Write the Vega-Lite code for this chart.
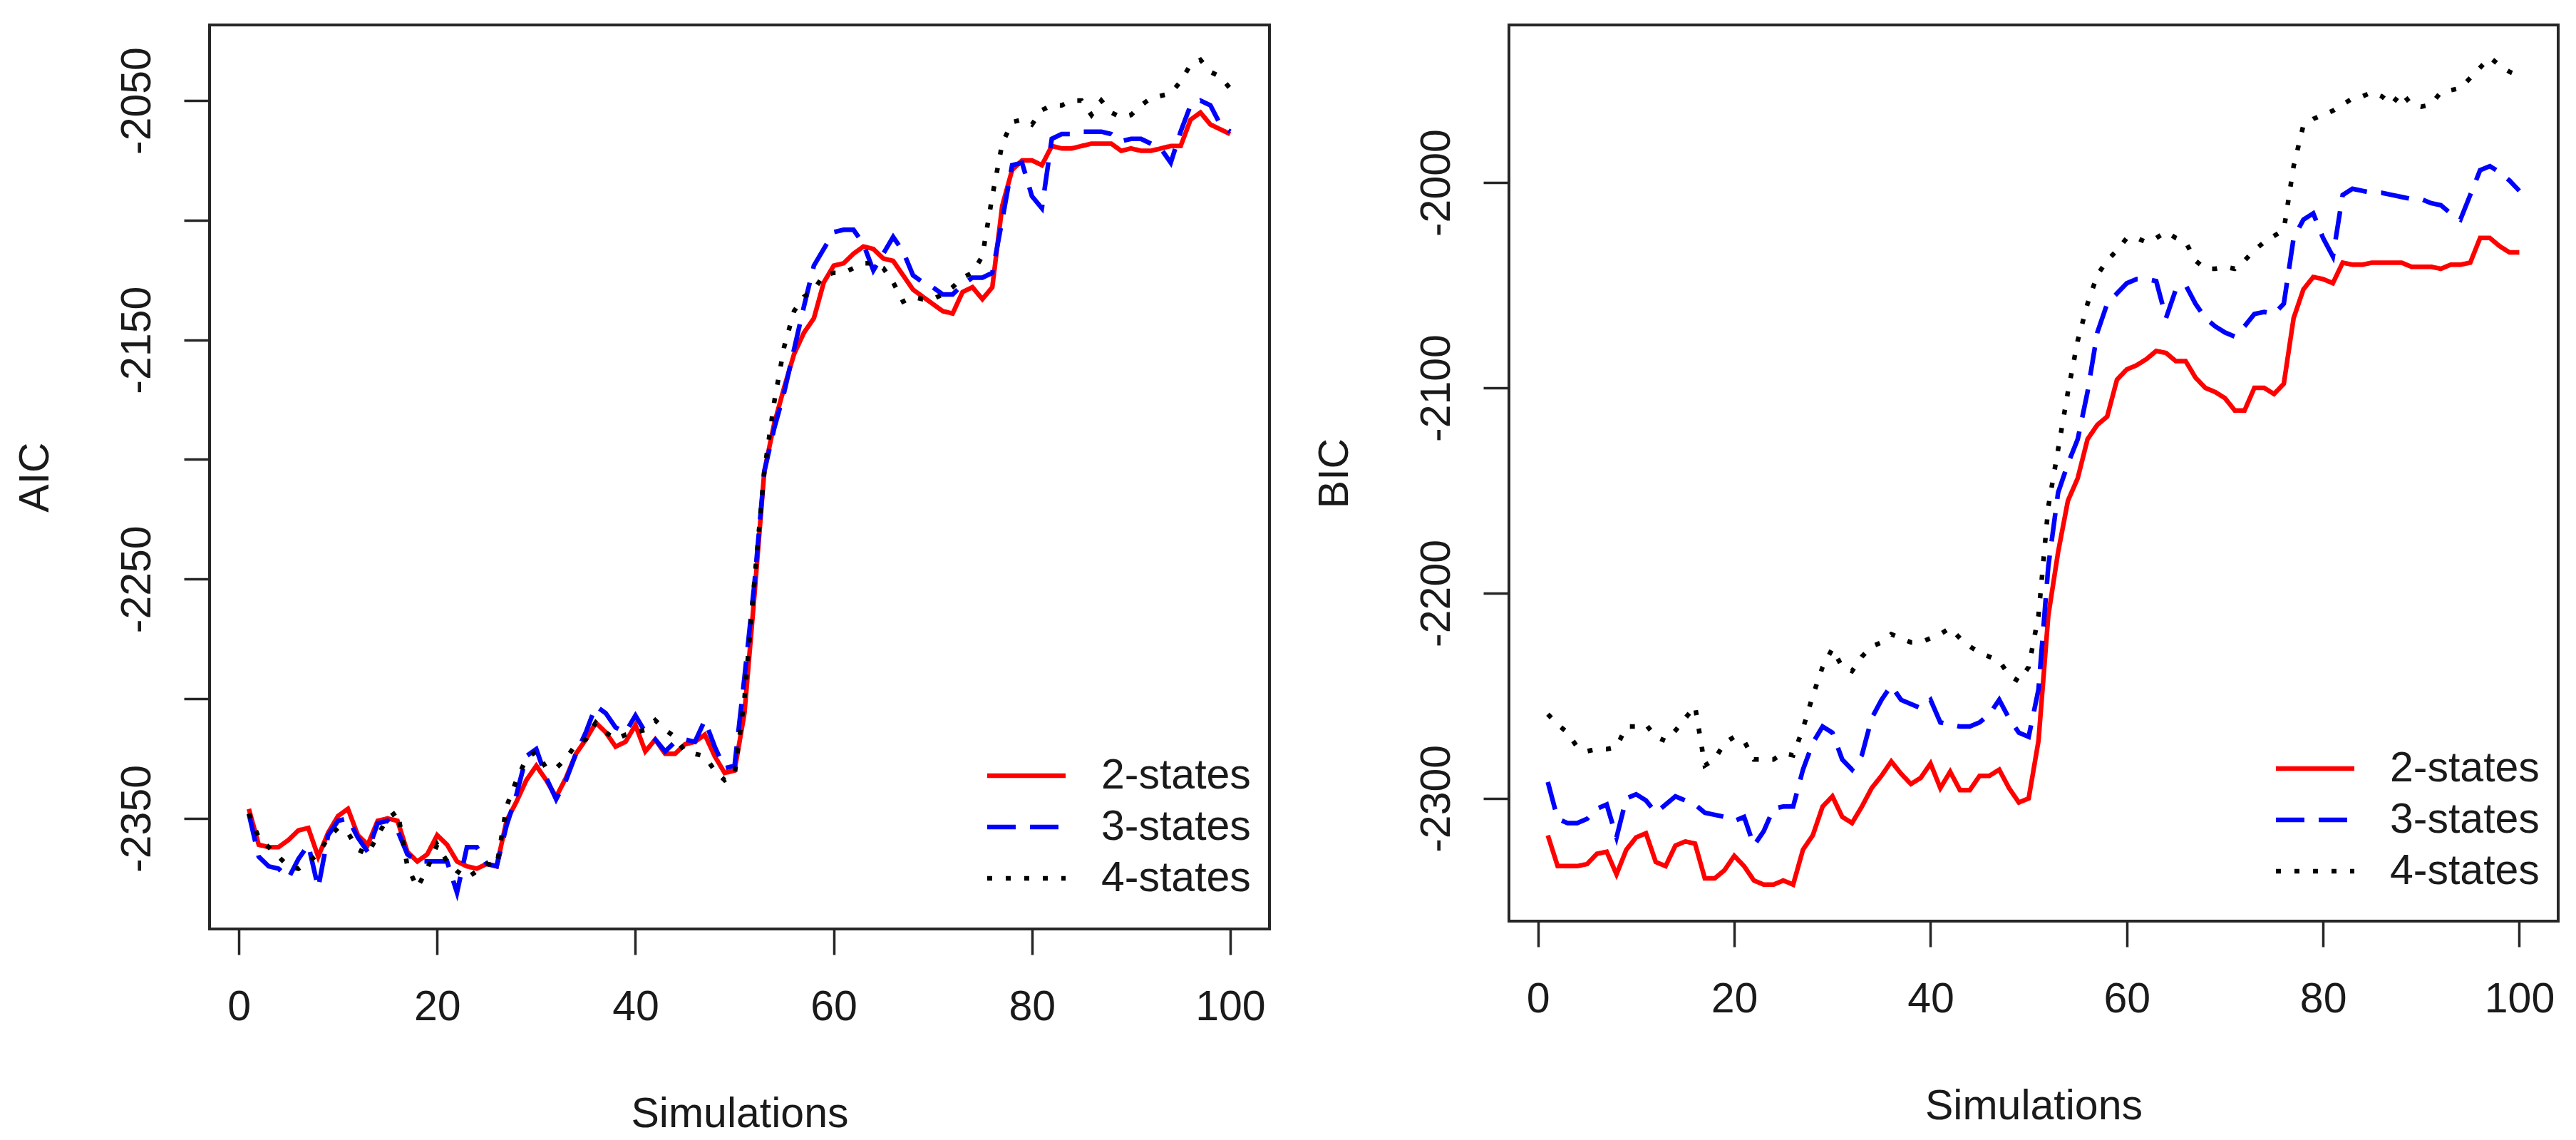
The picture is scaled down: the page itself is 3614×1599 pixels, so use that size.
{
"$schema": "https://vega.github.io/schema/vega-lite/v6.json",
"autosize": {"type": "none"},
"padding": {"left": 294, "top": 35, "right": 3320, "bottom": 1564},
"background": "#ffffff",
"bounds": "flush",
"spacing": 336,
"config": {
  "font": "Liberation Sans",
  "view": {"stroke": "#262626", "strokeWidth": 4},
  "axis": {"domain": false, "grid": false, "ticks": true, "tickColor": "#262626", "tickWidth": 3.5, "tickSize": 36,
    "labelFont": "Liberation Sans", "labelFontSize": 59, "labelColor": "#1a1a1a",
    "titleFont": "Liberation Sans", "titleFontSize": 59, "titleFontWeight": "normal", "titleColor": "#1a1a1a",
    "labelOverlap": false, "labelFlush": false, "labelBound": false},
  "legend": {"orient": "none", "symbolType": "M-2,0L2,0", "symbolSize": 3025, "symbolStrokeWidth": 6.5, "labelOffset": 74, "rowPadding": 11, "padding": 0,
    "labelFont": "Liberation Sans", "labelFontSize": 59, "labelColor": "#1a1a1a", "labelLimit": 0}
},
"resolve": {"scale": {"color": "independent", "strokeDash": "independent"}, "legend": {"color": "independent", "strokeDash": "independent"}},
"datasets": {
"aic": [
{"sim":1,"model":"2-states","value":-2346},{"sim":2,"model":"2-states","value":-2361},{"sim":3,"model":"2-states","value":-2362},{"sim":4,"model":"2-states","value":-2362},{"sim":5,"model":"2-states","value":-2359},
{"sim":6,"model":"2-states","value":-2355},{"sim":7,"model":"2-states","value":-2354},{"sim":8,"model":"2-states","value":-2366},{"sim":9,"model":"2-states","value":-2356},{"sim":10,"model":"2-states","value":-2349},
{"sim":11,"model":"2-states","value":-2346},{"sim":12,"model":"2-states","value":-2357},{"sim":13,"model":"2-states","value":-2361},{"sim":14,"model":"2-states","value":-2351},{"sim":15,"model":"2-states","value":-2350},
{"sim":16,"model":"2-states","value":-2351},{"sim":17,"model":"2-states","value":-2364},{"sim":18,"model":"2-states","value":-2368},{"sim":19,"model":"2-states","value":-2365},{"sim":20,"model":"2-states","value":-2357},
{"sim":21,"model":"2-states","value":-2361},{"sim":22,"model":"2-states","value":-2368},{"sim":23,"model":"2-states","value":-2370},{"sim":24,"model":"2-states","value":-2371},{"sim":25,"model":"2-states","value":-2369},
{"sim":26,"model":"2-states","value":-2370},{"sim":27,"model":"2-states","value":-2351},{"sim":28,"model":"2-states","value":-2343},{"sim":29,"model":"2-states","value":-2334},{"sim":30,"model":"2-states","value":-2328},
{"sim":31,"model":"2-states","value":-2334},{"sim":32,"model":"2-states","value":-2341},{"sim":33,"model":"2-states","value":-2333},{"sim":34,"model":"2-states","value":-2323},{"sim":35,"model":"2-states","value":-2317},
{"sim":36,"model":"2-states","value":-2310},{"sim":37,"model":"2-states","value":-2314},{"sim":38,"model":"2-states","value":-2320},{"sim":39,"model":"2-states","value":-2318},{"sim":40,"model":"2-states","value":-2311},
{"sim":41,"model":"2-states","value":-2322},{"sim":42,"model":"2-states","value":-2317},{"sim":43,"model":"2-states","value":-2323},{"sim":44,"model":"2-states","value":-2323},{"sim":45,"model":"2-states","value":-2319},
{"sim":46,"model":"2-states","value":-2318},{"sim":47,"model":"2-states","value":-2315},{"sim":48,"model":"2-states","value":-2324},{"sim":49,"model":"2-states","value":-2331},{"sim":50,"model":"2-states","value":-2330},
{"sim":51,"model":"2-states","value":-2306},{"sim":52,"model":"2-states","value":-2257},{"sim":53,"model":"2-states","value":-2205},{"sim":54,"model":"2-states","value":-2185},{"sim":55,"model":"2-states","value":-2170},
{"sim":56,"model":"2-states","value":-2156},{"sim":57,"model":"2-states","value":-2147},{"sim":58,"model":"2-states","value":-2141},{"sim":59,"model":"2-states","value":-2126},{"sim":60,"model":"2-states","value":-2119},
{"sim":61,"model":"2-states","value":-2118},{"sim":62,"model":"2-states","value":-2114},{"sim":63,"model":"2-states","value":-2111},{"sim":64,"model":"2-states","value":-2112},{"sim":65,"model":"2-states","value":-2116},
{"sim":66,"model":"2-states","value":-2117},{"sim":67,"model":"2-states","value":-2123},{"sim":68,"model":"2-states","value":-2129},{"sim":69,"model":"2-states","value":-2132},{"sim":70,"model":"2-states","value":-2135},
{"sim":71,"model":"2-states","value":-2138},{"sim":72,"model":"2-states","value":-2139},{"sim":73,"model":"2-states","value":-2130},{"sim":74,"model":"2-states","value":-2128},{"sim":75,"model":"2-states","value":-2133},
{"sim":76,"model":"2-states","value":-2128},{"sim":77,"model":"2-states","value":-2094},{"sim":78,"model":"2-states","value":-2079},{"sim":79,"model":"2-states","value":-2075},{"sim":80,"model":"2-states","value":-2075},
{"sim":81,"model":"2-states","value":-2077},{"sim":82,"model":"2-states","value":-2069},{"sim":83,"model":"2-states","value":-2070},{"sim":84,"model":"2-states","value":-2070},{"sim":85,"model":"2-states","value":-2069},
{"sim":86,"model":"2-states","value":-2068},{"sim":87,"model":"2-states","value":-2068},{"sim":88,"model":"2-states","value":-2068},{"sim":89,"model":"2-states","value":-2071},{"sim":90,"model":"2-states","value":-2070},
{"sim":91,"model":"2-states","value":-2071},{"sim":92,"model":"2-states","value":-2071},{"sim":93,"model":"2-states","value":-2070},{"sim":94,"model":"2-states","value":-2069},{"sim":95,"model":"2-states","value":-2069},
{"sim":96,"model":"2-states","value":-2058},{"sim":97,"model":"2-states","value":-2055},{"sim":98,"model":"2-states","value":-2060},{"sim":99,"model":"2-states","value":-2062},{"sim":100,"model":"2-states","value":-2064},
{"sim":1,"model":"3-states","value":-2348},{"sim":2,"model":"3-states","value":-2366},{"sim":3,"model":"3-states","value":-2370},{"sim":4,"model":"3-states","value":-2371},{"sim":5,"model":"3-states","value":-2375},
{"sim":6,"model":"3-states","value":-2367},{"sim":7,"model":"3-states","value":-2361},{"sim":8,"model":"3-states","value":-2379},{"sim":9,"model":"3-states","value":-2357},{"sim":10,"model":"3-states","value":-2351},
{"sim":11,"model":"3-states","value":-2350},{"sim":12,"model":"3-states","value":-2358},{"sim":13,"model":"3-states","value":-2364},{"sim":14,"model":"3-states","value":-2352},{"sim":15,"model":"3-states","value":-2351},
{"sim":16,"model":"3-states","value":-2355},{"sim":17,"model":"3-states","value":-2365},{"sim":18,"model":"3-states","value":-2368},{"sim":19,"model":"3-states","value":-2368},{"sim":20,"model":"3-states","value":-2368},
{"sim":21,"model":"3-states","value":-2368},{"sim":22,"model":"3-states","value":-2381},{"sim":23,"model":"3-states","value":-2362},{"sim":24,"model":"3-states","value":-2362},{"sim":25,"model":"3-states","value":-2369},
{"sim":26,"model":"3-states","value":-2370},{"sim":27,"model":"3-states","value":-2353},{"sim":28,"model":"3-states","value":-2340},{"sim":29,"model":"3-states","value":-2324},{"sim":30,"model":"3-states","value":-2321},
{"sim":31,"model":"3-states","value":-2333},{"sim":32,"model":"3-states","value":-2342},{"sim":33,"model":"3-states","value":-2334},{"sim":34,"model":"3-states","value":-2323},{"sim":35,"model":"3-states","value":-2314},
{"sim":36,"model":"3-states","value":-2303},{"sim":37,"model":"3-states","value":-2306},{"sim":38,"model":"3-states","value":-2312},{"sim":39,"model":"3-states","value":-2314},{"sim":40,"model":"3-states","value":-2307},
{"sim":41,"model":"3-states","value":-2314},{"sim":42,"model":"3-states","value":-2317},{"sim":43,"model":"3-states","value":-2322},{"sim":44,"model":"3-states","value":-2318},{"sim":45,"model":"3-states","value":-2317},
{"sim":46,"model":"3-states","value":-2318},{"sim":47,"model":"3-states","value":-2309},{"sim":48,"model":"3-states","value":-2320},{"sim":49,"model":"3-states","value":-2329},{"sim":50,"model":"3-states","value":-2328},
{"sim":51,"model":"3-states","value":-2291},{"sim":52,"model":"3-states","value":-2252},{"sim":53,"model":"3-states","value":-2205},{"sim":54,"model":"3-states","value":-2187},{"sim":55,"model":"3-states","value":-2172},
{"sim":56,"model":"3-states","value":-2154},{"sim":57,"model":"3-states","value":-2136},{"sim":58,"model":"3-states","value":-2119},{"sim":59,"model":"3-states","value":-2112},{"sim":60,"model":"3-states","value":-2105},
{"sim":61,"model":"3-states","value":-2104},{"sim":62,"model":"3-states","value":-2104},{"sim":63,"model":"3-states","value":-2110},{"sim":64,"model":"3-states","value":-2121},{"sim":65,"model":"3-states","value":-2114},
{"sim":66,"model":"3-states","value":-2107},{"sim":67,"model":"3-states","value":-2113},{"sim":68,"model":"3-states","value":-2123},{"sim":69,"model":"3-states","value":-2126},{"sim":70,"model":"3-states","value":-2128},
{"sim":71,"model":"3-states","value":-2131},{"sim":72,"model":"3-states","value":-2131},{"sim":73,"model":"3-states","value":-2127},{"sim":74,"model":"3-states","value":-2124},{"sim":75,"model":"3-states","value":-2124},
{"sim":76,"model":"3-states","value":-2122},{"sim":77,"model":"3-states","value":-2100},{"sim":78,"model":"3-states","value":-2077},{"sim":79,"model":"3-states","value":-2076},{"sim":80,"model":"3-states","value":-2090},
{"sim":81,"model":"3-states","value":-2095},{"sim":82,"model":"3-states","value":-2066},{"sim":83,"model":"3-states","value":-2064},{"sim":84,"model":"3-states","value":-2064},{"sim":85,"model":"3-states","value":-2063},
{"sim":86,"model":"3-states","value":-2063},{"sim":87,"model":"3-states","value":-2063},{"sim":88,"model":"3-states","value":-2064},{"sim":89,"model":"3-states","value":-2067},{"sim":90,"model":"3-states","value":-2066},
{"sim":91,"model":"3-states","value":-2066},{"sim":92,"model":"3-states","value":-2068},{"sim":93,"model":"3-states","value":-2070},{"sim":94,"model":"3-states","value":-2076},{"sim":95,"model":"3-states","value":-2063},
{"sim":96,"model":"3-states","value":-2052},{"sim":97,"model":"3-states","value":-2050},{"sim":98,"model":"3-states","value":-2052},{"sim":99,"model":"3-states","value":-2060},{"sim":100,"model":"3-states","value":-2063},
{"sim":1,"model":"4-states","value":-2348},{"sim":2,"model":"4-states","value":-2358},{"sim":3,"model":"4-states","value":-2362},{"sim":4,"model":"4-states","value":-2366},{"sim":5,"model":"4-states","value":-2370},
{"sim":6,"model":"4-states","value":-2371},{"sim":7,"model":"4-states","value":-2368},{"sim":8,"model":"4-states","value":-2365},{"sim":9,"model":"4-states","value":-2358},{"sim":10,"model":"4-states","value":-2354},
{"sim":11,"model":"4-states","value":-2356},{"sim":12,"model":"4-states","value":-2363},{"sim":13,"model":"4-states","value":-2365},{"sim":14,"model":"4-states","value":-2357},{"sim":15,"model":"4-states","value":-2350},
{"sim":16,"model":"4-states","value":-2347},{"sim":17,"model":"4-states","value":-2370},{"sim":18,"model":"4-states","value":-2379},{"sim":19,"model":"4-states","value":-2371},{"sim":20,"model":"4-states","value":-2361},
{"sim":21,"model":"4-states","value":-2368},{"sim":22,"model":"4-states","value":-2372},{"sim":23,"model":"4-states","value":-2375},{"sim":24,"model":"4-states","value":-2372},{"sim":25,"model":"4-states","value":-2369},
{"sim":26,"model":"4-states","value":-2370},{"sim":27,"model":"4-states","value":-2345},{"sim":28,"model":"4-states","value":-2334},{"sim":29,"model":"4-states","value":-2325},{"sim":30,"model":"4-states","value":-2322},
{"sim":31,"model":"4-states","value":-2329},{"sim":32,"model":"4-states","value":-2329},{"sim":33,"model":"4-states","value":-2325},{"sim":34,"model":"4-states","value":-2319},{"sim":35,"model":"4-states","value":-2317},
{"sim":36,"model":"4-states","value":-2310},{"sim":37,"model":"4-states","value":-2314},{"sim":38,"model":"4-states","value":-2317},{"sim":39,"model":"4-states","value":-2315},{"sim":40,"model":"4-states","value":-2314},
{"sim":41,"model":"4-states","value":-2313},{"sim":42,"model":"4-states","value":-2309},{"sim":43,"model":"4-states","value":-2313},{"sim":44,"model":"4-states","value":-2316},{"sim":45,"model":"4-states","value":-2322},
{"sim":46,"model":"4-states","value":-2323},{"sim":47,"model":"4-states","value":-2324},{"sim":48,"model":"4-states","value":-2330},{"sim":49,"model":"4-states","value":-2334},{"sim":50,"model":"4-states","value":-2332},
{"sim":51,"model":"4-states","value":-2300},{"sim":52,"model":"4-states","value":-2251},{"sim":53,"model":"4-states","value":-2205},{"sim":54,"model":"4-states","value":-2176},{"sim":55,"model":"4-states","value":-2153},
{"sim":56,"model":"4-states","value":-2138},{"sim":57,"model":"4-states","value":-2132},{"sim":58,"model":"4-states","value":-2129},{"sim":59,"model":"4-states","value":-2123},{"sim":60,"model":"4-states","value":-2122},
{"sim":61,"model":"4-states","value":-2122},{"sim":62,"model":"4-states","value":-2120},{"sim":63,"model":"4-states","value":-2118},{"sim":64,"model":"4-states","value":-2118},{"sim":65,"model":"4-states","value":-2120},
{"sim":66,"model":"4-states","value":-2126},{"sim":67,"model":"4-states","value":-2134},{"sim":68,"model":"4-states","value":-2132},{"sim":69,"model":"4-states","value":-2133},{"sim":70,"model":"4-states","value":-2133},
{"sim":71,"model":"4-states","value":-2131},{"sim":72,"model":"4-states","value":-2128},{"sim":73,"model":"4-states","value":-2124},{"sim":74,"model":"4-states","value":-2122},{"sim":75,"model":"4-states","value":-2115},
{"sim":76,"model":"4-states","value":-2090},{"sim":77,"model":"4-states","value":-2068},{"sim":78,"model":"4-states","value":-2059},{"sim":79,"model":"4-states","value":-2058},{"sim":80,"model":"4-states","value":-2060},
{"sim":81,"model":"4-states","value":-2054},{"sim":82,"model":"4-states","value":-2052},{"sim":83,"model":"4-states","value":-2052},{"sim":84,"model":"4-states","value":-2050},{"sim":85,"model":"4-states","value":-2050},
{"sim":86,"model":"4-states","value":-2056},{"sim":87,"model":"4-states","value":-2050},{"sim":88,"model":"4-states","value":-2055},{"sim":89,"model":"4-states","value":-2057},{"sim":90,"model":"4-states","value":-2056},
{"sim":91,"model":"4-states","value":-2052},{"sim":92,"model":"4-states","value":-2049},{"sim":93,"model":"4-states","value":-2048},{"sim":94,"model":"4-states","value":-2047},{"sim":95,"model":"4-states","value":-2042},
{"sim":96,"model":"4-states","value":-2035},{"sim":97,"model":"4-states","value":-2033},{"sim":98,"model":"4-states","value":-2038},{"sim":99,"model":"4-states","value":-2040},{"sim":100,"model":"4-states","value":-2045}
],
"bic": [
{"sim":1,"model":"2-states","value":-2318},{"sim":2,"model":"2-states","value":-2333},{"sim":3,"model":"2-states","value":-2333},{"sim":4,"model":"2-states","value":-2333},{"sim":5,"model":"2-states","value":-2332},
{"sim":6,"model":"2-states","value":-2327},{"sim":7,"model":"2-states","value":-2326},{"sim":8,"model":"2-states","value":-2337},{"sim":9,"model":"2-states","value":-2325},{"sim":10,"model":"2-states","value":-2319},
{"sim":11,"model":"2-states","value":-2317},{"sim":12,"model":"2-states","value":-2331},{"sim":13,"model":"2-states","value":-2333},{"sim":14,"model":"2-states","value":-2323},{"sim":15,"model":"2-states","value":-2321},
{"sim":16,"model":"2-states","value":-2322},{"sim":17,"model":"2-states","value":-2339},{"sim":18,"model":"2-states","value":-2339},{"sim":19,"model":"2-states","value":-2335},{"sim":20,"model":"2-states","value":-2328},
{"sim":21,"model":"2-states","value":-2333},{"sim":22,"model":"2-states","value":-2340},{"sim":23,"model":"2-states","value":-2342},{"sim":24,"model":"2-states","value":-2342},{"sim":25,"model":"2-states","value":-2340},
{"sim":26,"model":"2-states","value":-2342},{"sim":27,"model":"2-states","value":-2325},{"sim":28,"model":"2-states","value":-2318},{"sim":29,"model":"2-states","value":-2304},{"sim":30,"model":"2-states","value":-2299},
{"sim":31,"model":"2-states","value":-2309},{"sim":32,"model":"2-states","value":-2312},{"sim":33,"model":"2-states","value":-2304},{"sim":34,"model":"2-states","value":-2295},{"sim":35,"model":"2-states","value":-2289},
{"sim":36,"model":"2-states","value":-2282},{"sim":37,"model":"2-states","value":-2288},{"sim":38,"model":"2-states","value":-2293},{"sim":39,"model":"2-states","value":-2290},{"sim":40,"model":"2-states","value":-2283},
{"sim":41,"model":"2-states","value":-2295},{"sim":42,"model":"2-states","value":-2287},{"sim":43,"model":"2-states","value":-2296},{"sim":44,"model":"2-states","value":-2296},{"sim":45,"model":"2-states","value":-2289},
{"sim":46,"model":"2-states","value":-2289},{"sim":47,"model":"2-states","value":-2286},{"sim":48,"model":"2-states","value":-2295},{"sim":49,"model":"2-states","value":-2302},{"sim":50,"model":"2-states","value":-2300},
{"sim":51,"model":"2-states","value":-2272},{"sim":52,"model":"2-states","value":-2211},{"sim":53,"model":"2-states","value":-2180},{"sim":54,"model":"2-states","value":-2155},{"sim":55,"model":"2-states","value":-2144},
{"sim":56,"model":"2-states","value":-2125},{"sim":57,"model":"2-states","value":-2118},{"sim":58,"model":"2-states","value":-2114},{"sim":59,"model":"2-states","value":-2096},{"sim":60,"model":"2-states","value":-2091},
{"sim":61,"model":"2-states","value":-2089},{"sim":62,"model":"2-states","value":-2086},{"sim":63,"model":"2-states","value":-2082},{"sim":64,"model":"2-states","value":-2083},{"sim":65,"model":"2-states","value":-2087},
{"sim":66,"model":"2-states","value":-2087},{"sim":67,"model":"2-states","value":-2095},{"sim":68,"model":"2-states","value":-2100},{"sim":69,"model":"2-states","value":-2102},{"sim":70,"model":"2-states","value":-2105},
{"sim":71,"model":"2-states","value":-2111},{"sim":72,"model":"2-states","value":-2111},{"sim":73,"model":"2-states","value":-2100},{"sim":74,"model":"2-states","value":-2100},{"sim":75,"model":"2-states","value":-2103},
{"sim":76,"model":"2-states","value":-2098},{"sim":77,"model":"2-states","value":-2066},{"sim":78,"model":"2-states","value":-2052},{"sim":79,"model":"2-states","value":-2046},{"sim":80,"model":"2-states","value":-2047},
{"sim":81,"model":"2-states","value":-2049},{"sim":82,"model":"2-states","value":-2039},{"sim":83,"model":"2-states","value":-2040},{"sim":84,"model":"2-states","value":-2040},{"sim":85,"model":"2-states","value":-2039},
{"sim":86,"model":"2-states","value":-2039},{"sim":87,"model":"2-states","value":-2039},{"sim":88,"model":"2-states","value":-2039},{"sim":89,"model":"2-states","value":-2041},{"sim":90,"model":"2-states","value":-2041},
{"sim":91,"model":"2-states","value":-2041},{"sim":92,"model":"2-states","value":-2042},{"sim":93,"model":"2-states","value":-2040},{"sim":94,"model":"2-states","value":-2040},{"sim":95,"model":"2-states","value":-2039},
{"sim":96,"model":"2-states","value":-2027},{"sim":97,"model":"2-states","value":-2027},{"sim":98,"model":"2-states","value":-2031},{"sim":99,"model":"2-states","value":-2034},{"sim":100,"model":"2-states","value":-2034},
{"sim":1,"model":"3-states","value":-2292},{"sim":2,"model":"3-states","value":-2310},{"sim":3,"model":"3-states","value":-2312},{"sim":4,"model":"3-states","value":-2312},{"sim":5,"model":"3-states","value":-2310},
{"sim":6,"model":"3-states","value":-2305},{"sim":7,"model":"3-states","value":-2303},{"sim":8,"model":"3-states","value":-2319},{"sim":9,"model":"3-states","value":-2300},{"sim":10,"model":"3-states","value":-2298},
{"sim":11,"model":"3-states","value":-2301},{"sim":12,"model":"3-states","value":-2307},{"sim":13,"model":"3-states","value":-2303},{"sim":14,"model":"3-states","value":-2299},{"sim":15,"model":"3-states","value":-2301},
{"sim":16,"model":"3-states","value":-2303},{"sim":17,"model":"3-states","value":-2307},{"sim":18,"model":"3-states","value":-2308},{"sim":19,"model":"3-states","value":-2309},{"sim":20,"model":"3-states","value":-2311},
{"sim":21,"model":"3-states","value":-2309},{"sim":22,"model":"3-states","value":-2323},{"sim":23,"model":"3-states","value":-2316},{"sim":24,"model":"3-states","value":-2305},{"sim":25,"model":"3-states","value":-2304},
{"sim":26,"model":"3-states","value":-2304},{"sim":27,"model":"3-states","value":-2286},{"sim":28,"model":"3-states","value":-2273},{"sim":29,"model":"3-states","value":-2265},{"sim":30,"model":"3-states","value":-2268},
{"sim":31,"model":"3-states","value":-2281},{"sim":32,"model":"3-states","value":-2286},{"sim":33,"model":"3-states","value":-2279},{"sim":34,"model":"3-states","value":-2261},{"sim":35,"model":"3-states","value":-2252},
{"sim":36,"model":"3-states","value":-2245},{"sim":37,"model":"3-states","value":-2252},{"sim":38,"model":"3-states","value":-2254},{"sim":39,"model":"3-states","value":-2256},{"sim":40,"model":"3-states","value":-2252},
{"sim":41,"model":"3-states","value":-2263},{"sim":42,"model":"3-states","value":-2264},{"sim":43,"model":"3-states","value":-2265},{"sim":44,"model":"3-states","value":-2265},{"sim":45,"model":"3-states","value":-2263},
{"sim":46,"model":"3-states","value":-2259},{"sim":47,"model":"3-states","value":-2252},{"sim":48,"model":"3-states","value":-2261},{"sim":49,"model":"3-states","value":-2268},{"sim":50,"model":"3-states","value":-2270},
{"sim":51,"model":"3-states","value":-2247},{"sim":52,"model":"3-states","value":-2187},{"sim":53,"model":"3-states","value":-2151},{"sim":54,"model":"3-states","value":-2137},{"sim":55,"model":"3-states","value":-2125},
{"sim":56,"model":"3-states","value":-2102},{"sim":57,"model":"3-states","value":-2073},{"sim":58,"model":"3-states","value":-2059},{"sim":59,"model":"3-states","value":-2054},{"sim":60,"model":"3-states","value":-2049},
{"sim":61,"model":"3-states","value":-2047},{"sim":62,"model":"3-states","value":-2047},{"sim":63,"model":"3-states","value":-2048},{"sim":64,"model":"3-states","value":-2066},{"sim":65,"model":"3-states","value":-2052},
{"sim":66,"model":"3-states","value":-2050},{"sim":67,"model":"3-states","value":-2059},{"sim":68,"model":"3-states","value":-2066},{"sim":69,"model":"3-states","value":-2070},{"sim":70,"model":"3-states","value":-2073},
{"sim":71,"model":"3-states","value":-2075},{"sim":72,"model":"3-states","value":-2070},{"sim":73,"model":"3-states","value":-2064},{"sim":74,"model":"3-states","value":-2063},{"sim":75,"model":"3-states","value":-2064},
{"sim":76,"model":"3-states","value":-2059},{"sim":77,"model":"3-states","value":-2027},{"sim":78,"model":"3-states","value":-2018},{"sim":79,"model":"3-states","value":-2015},{"sim":80,"model":"3-states","value":-2027},
{"sim":81,"model":"3-states","value":-2036},{"sim":82,"model":"3-states","value":-2006},{"sim":83,"model":"3-states","value":-2003},{"sim":84,"model":"3-states","value":-2004},{"sim":85,"model":"3-states","value":-2005},
{"sim":86,"model":"3-states","value":-2005},{"sim":87,"model":"3-states","value":-2006},{"sim":88,"model":"3-states","value":-2007},{"sim":89,"model":"3-states","value":-2008},{"sim":90,"model":"3-states","value":-2008},
{"sim":91,"model":"3-states","value":-2010},{"sim":92,"model":"3-states","value":-2011},{"sim":93,"model":"3-states","value":-2015},{"sim":94,"model":"3-states","value":-2018},{"sim":95,"model":"3-states","value":-2006},
{"sim":96,"model":"3-states","value":-1994},{"sim":97,"model":"3-states","value":-1992},{"sim":98,"model":"3-states","value":-1995},{"sim":99,"model":"3-states","value":-1999},{"sim":100,"model":"3-states","value":-2004},
{"sim":1,"model":"4-states","value":-2259},{"sim":2,"model":"4-states","value":-2264},{"sim":3,"model":"4-states","value":-2268},{"sim":4,"model":"4-states","value":-2275},{"sim":5,"model":"4-states","value":-2277},
{"sim":6,"model":"4-states","value":-2276},{"sim":7,"model":"4-states","value":-2276},{"sim":8,"model":"4-states","value":-2275},{"sim":9,"model":"4-states","value":-2265},{"sim":10,"model":"4-states","value":-2265},
{"sim":11,"model":"4-states","value":-2264},{"sim":12,"model":"4-states","value":-2270},{"sim":13,"model":"4-states","value":-2272},{"sim":14,"model":"4-states","value":-2267},{"sim":15,"model":"4-states","value":-2261},
{"sim":16,"model":"4-states","value":-2255},{"sim":17,"model":"4-states","value":-2284},{"sim":18,"model":"4-states","value":-2281},{"sim":19,"model":"4-states","value":-2273},{"sim":20,"model":"4-states","value":-2270},
{"sim":21,"model":"4-states","value":-2272},{"sim":22,"model":"4-states","value":-2281},{"sim":23,"model":"4-states","value":-2281},{"sim":24,"model":"4-states","value":-2281},{"sim":25,"model":"4-states","value":-2278},
{"sim":26,"model":"4-states","value":-2279},{"sim":27,"model":"4-states","value":-2266},{"sim":28,"model":"4-states","value":-2250},{"sim":29,"model":"4-states","value":-2236},{"sim":30,"model":"4-states","value":-2227},
{"sim":31,"model":"4-states","value":-2236},{"sim":32,"model":"4-states","value":-2238},{"sim":33,"model":"4-states","value":-2231},{"sim":34,"model":"4-states","value":-2226},{"sim":35,"model":"4-states","value":-2224},
{"sim":36,"model":"4-states","value":-2220},{"sim":37,"model":"4-states","value":-2222},{"sim":38,"model":"4-states","value":-2224},{"sim":39,"model":"4-states","value":-2224},{"sim":40,"model":"4-states","value":-2222},
{"sim":41,"model":"4-states","value":-2220},{"sim":42,"model":"4-states","value":-2217},{"sim":43,"model":"4-states","value":-2222},{"sim":44,"model":"4-states","value":-2226},{"sim":45,"model":"4-states","value":-2229},
{"sim":46,"model":"4-states","value":-2231},{"sim":47,"model":"4-states","value":-2233},{"sim":48,"model":"4-states","value":-2240},{"sim":49,"model":"4-states","value":-2243},{"sim":50,"model":"4-states","value":-2236},
{"sim":51,"model":"4-states","value":-2211},{"sim":52,"model":"4-states","value":-2158},{"sim":53,"model":"4-states","value":-2130},{"sim":54,"model":"4-states","value":-2102},{"sim":55,"model":"4-states","value":-2077},
{"sim":56,"model":"4-states","value":-2059},{"sim":57,"model":"4-states","value":-2045},{"sim":58,"model":"4-states","value":-2038},{"sim":59,"model":"4-states","value":-2033},{"sim":60,"model":"4-states","value":-2027},
{"sim":61,"model":"4-states","value":-2027},{"sim":62,"model":"4-states","value":-2029},{"sim":63,"model":"4-states","value":-2027},{"sim":64,"model":"4-states","value":-2024},{"sim":65,"model":"4-states","value":-2027},
{"sim":66,"model":"4-states","value":-2029},{"sim":67,"model":"4-states","value":-2038},{"sim":68,"model":"4-states","value":-2042},{"sim":69,"model":"4-states","value":-2042},{"sim":70,"model":"4-states","value":-2041},
{"sim":71,"model":"4-states","value":-2042},{"sim":72,"model":"4-states","value":-2038},{"sim":73,"model":"4-states","value":-2033},{"sim":74,"model":"4-states","value":-2029},{"sim":75,"model":"4-states","value":-2026},
{"sim":76,"model":"4-states","value":-2023},{"sim":77,"model":"4-states","value":-1992},{"sim":78,"model":"4-states","value":-1972},{"sim":79,"model":"4-states","value":-1969},{"sim":80,"model":"4-states","value":-1967},
{"sim":81,"model":"4-states","value":-1965},{"sim":82,"model":"4-states","value":-1962},{"sim":83,"model":"4-states","value":-1959},{"sim":84,"model":"4-states","value":-1958},{"sim":85,"model":"4-states","value":-1956},
{"sim":86,"model":"4-states","value":-1958},{"sim":87,"model":"4-states","value":-1962},{"sim":88,"model":"4-states","value":-1956},{"sim":89,"model":"4-states","value":-1962},{"sim":90,"model":"4-states","value":-1963},
{"sim":91,"model":"4-states","value":-1962},{"sim":92,"model":"4-states","value":-1956},{"sim":93,"model":"4-states","value":-1955},{"sim":94,"model":"4-states","value":-1954},{"sim":95,"model":"4-states","value":-1949},
{"sim":96,"model":"4-states","value":-1944},{"sim":97,"model":"4-states","value":-1939},{"sim":98,"model":"4-states","value":-1943},{"sim":99,"model":"4-states","value":-1946},{"sim":100,"model":"4-states","value":-1948}
]
},
"hconcat": [
{
  "width": 1487, "height": 1268,
  "data": {"name": "aic"},
  "mark": {"type": "line", "strokeWidth": 6.5},
  "encoding": {
    "x": {"field": "sim", "type": "quantitative", "scale": {"domain": [-2.96, 103.96], "nice": false, "zero": false},
      "axis": {"values": [0, 20, 40, 60, 80, 100], "title": "Simulations", "labelExpr": "toString(datum.value)",
        "labelAngle": 0, "labelAlign": "center", "labelBaseline": "alphabetic", "labelPadding": 91, "titleBaseline": "alphabetic", "titleY": 277}},
    "y": {"field": "value", "type": "quantitative", "scale": {"domain": [-2396.2, -2018.4], "nice": false, "zero": false},
      "axis": {"values": [-2350, -2300, -2250, -2200, -2150, -2100, -2050], "title": "AIC",
        "labelExpr": "datum.value % 100 == -50 ? toString(datum.value) : ''",
        "labelAngle": -90, "labelAlign": "center", "labelBaseline": "alphabetic", "labelPadding": 48, "titleAngle": -90, "titleBaseline": "middle", "titleX": -245}},
    "color": {"field": "model", "type": "nominal",
      "scale": {"domain": ["2-states", "3-states", "4-states"], "range": ["#ff0000", "#0000ff", "#000000"]},
      "legend": {"title": null, "orient": "none", "legendX": 1115, "legendY": 1022}},
    "strokeDash": {"field": "model", "type": "nominal",
      "scale": {"domain": ["2-states", "3-states", "4-states"], "range": [[1, 0], [40, 20], [7, 19]]},
      "legend": {"title": null, "orient": "none", "legendX": 1115, "legendY": 1022}}
  }
},
{
  "width": 1472, "height": 1257,
  "data": {"name": "bic"},
  "mark": {"type": "line", "strokeWidth": 6.5},
  "encoding": {
    "x": {"field": "sim", "type": "quantitative", "scale": {"domain": [-2.96, 103.96], "nice": false, "zero": false},
      "axis": {"values": [0, 20, 40, 60, 80, 100], "title": "Simulations", "labelExpr": "toString(datum.value)",
        "labelAngle": 0, "labelAlign": "center", "labelBaseline": "alphabetic", "labelPadding": 91, "titleBaseline": "alphabetic", "titleY": 277}},
    "y": {"field": "value", "type": "quantitative", "scale": {"domain": [-2359.8, -1923.2], "nice": false, "zero": false},
      "axis": {"values": [-2300, -2200, -2100, -2000], "title": "BIC",
        "labelExpr": "toString(datum.value)",
        "labelAngle": -90, "labelAlign": "center", "labelBaseline": "alphabetic", "labelPadding": 48, "titleAngle": -90, "titleBaseline": "middle", "titleX": -245}},
    "color": {"field": "model", "type": "nominal",
      "scale": {"domain": ["2-states", "3-states", "4-states"], "range": ["#ff0000", "#0000ff", "#000000"]},
      "legend": {"title": null, "orient": "none", "legendX": 1100, "legendY": 1012}},
    "strokeDash": {"field": "model", "type": "nominal",
      "scale": {"domain": ["2-states", "3-states", "4-states"], "range": [[1, 0], [40, 20], [7, 19]]},
      "legend": {"title": null, "orient": "none", "legendX": 1100, "legendY": 1012}}
  }
}
]
}
